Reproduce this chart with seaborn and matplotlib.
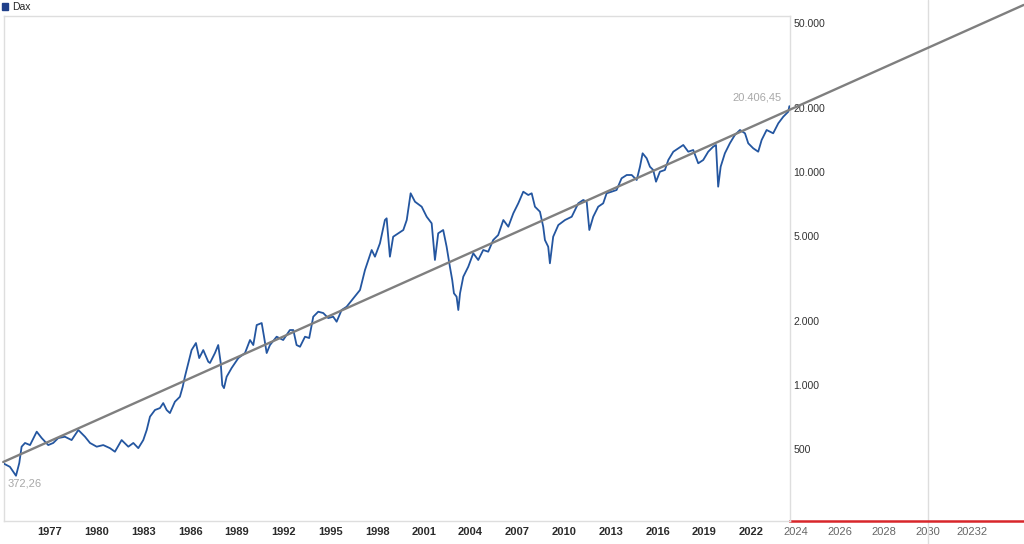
import numpy as np
import pandas as pd
import matplotlib
matplotlib.use("Agg")
import matplotlib.pyplot as plt
from matplotlib.patches import Patch
from matplotlib.ticker import NullLocator
import seaborn as sns

# ---------------- data ----------------
dax_years = [1974.00, 1974.22, 1974.43, 1974.64, 1974.82, 1975.03, 1975.18, 1975.40, 1975.72, 1976.15,
             1976.47, 1976.89, 1977.21, 1977.53, 1977.96, 1978.39, 1978.82, 1979.25, 1979.57, 1980.00,
             1980.42, 1980.85, 1981.17, 1981.60, 1982.03, 1982.35, 1982.67, 1982.99, 1983.21, 1983.42,
             1983.74, 1984.06, 1984.27, 1984.49, 1984.70, 1985.02, 1985.34, 1985.52, 1985.66, 1985.88,
             1986.09, 1986.37, 1986.58, 1986.84, 1987.16, 1987.27, 1987.59, 1987.80, 1987.96, 1988.06,
             1988.17, 1988.34, 1988.66, 1989.09, 1989.52, 1989.84, 1990.05, 1990.27, 1990.59, 1990.74,
             1990.91, 1991.12, 1991.55, 1991.97, 1992.40, 1992.62, 1992.83, 1993.05, 1993.37, 1993.64,
             1993.90, 1994.22, 1994.54, 1994.86, 1995.18, 1995.40, 1995.72, 1996.04, 1996.47, 1996.90,
             1997.22, 1997.65, 1997.86, 1998.18, 1998.50, 1998.61, 1998.82, 1999.03, 1999.36, 1999.68,
             1999.90, 2000.15, 2000.43, 2000.86, 2001.18, 2001.50, 2001.71, 2001.92, 2002.24, 2002.46,
             2002.67, 2002.82, 2002.93, 2003.10, 2003.21, 2003.32, 2003.53, 2003.85, 2004.17, 2004.49,
             2004.81, 2005.13, 2005.45, 2005.77, 2006.10, 2006.42, 2006.74, 2007.06, 2007.38, 2007.70,
             2007.92, 2008.13, 2008.45, 2008.66, 2008.77, 2008.98, 2009.09, 2009.30, 2009.63, 2010.06,
             2010.49, 2010.91, 2011.23, 2011.45, 2011.62, 2011.87, 2012.19, 2012.51, 2012.73, 2013.05,
             2013.37, 2013.69, 2014.02, 2014.34, 2014.66, 2014.87, 2015.04, 2015.30, 2015.51, 2015.72,
             2015.90, 2016.15, 2016.47, 2016.69, 2017.01, 2017.33, 2017.65, 2017.97, 2018.29, 2018.61,
             2018.93, 2019.25, 2019.57, 2019.75, 2019.89, 2020.05, 2020.32, 2020.64, 2020.96, 2021.29,
             2021.61, 2021.82, 2022.14, 2022.46, 2022.68, 2023.00, 2023.42, 2023.75, 2024.07, 2024.39,
             2024.46]
dax_values = [426, 418, 410, 389, 372.26, 427, 510, 531, 519, 600,
              560, 519, 531, 560, 568, 548, 611, 568, 531, 510,
              519, 502, 483, 548, 510, 531, 502, 548, 611, 706,
              759, 775, 818, 759, 734, 830, 876, 976, 1088, 1259,
              1453, 1568, 1332, 1453, 1281, 1263, 1407, 1534, 1263, 994,
              962, 1088, 1196, 1332, 1407, 1620, 1534, 1905, 1947, 1679,
              1407, 1534, 1679, 1620, 1805, 1805, 1534, 1506, 1679, 1655,
              2085, 2201, 2170, 2055, 2085, 1975, 2242, 2323, 2544, 2784,
              3458, 4295, 3995, 4618, 5944, 6055, 3995, 4960, 5147, 5335,
              5944, 7940, 7248, 6866, 6160, 5735, 3855, 5147, 5335, 4451,
              3584, 3103, 2687, 2590, 2242, 2687, 3216, 3584, 4145, 3855,
              4295, 4217, 4786, 5051, 5944, 5529, 6391, 7124, 8078, 7794,
              7940, 6866, 6504, 5529, 4786, 4451, 3719, 4960, 5630, 5944,
              6160, 7124, 7385, 7248, 5335, 6160, 6866, 7124, 7940, 8078,
              8229, 9340, 9680, 9680, 9170, 10590, 12246, 11600, 10590, 10220,
              9002, 10030, 10220, 11388, 12459, 12927, 13400, 12459, 12690, 10990,
              11388, 12459, 13154, 13400, 8527, 10590, 12246, 13648, 14936, 15763,
              15210, 13648, 12927, 12459, 14145, 15763, 15210, 16955, 18207, 19220,
              20406.45]

trend_years = [1974.0, 2039.5]
trend_values = [432, 61100]

main_xticks = [1977, 1980, 1983, 1986, 1989, 1992, 1995, 1998, 2001, 2004, 2007, 2010, 2013, 2016, 2019, 2022]
ext_xticks = [2024, 2026, 2028, 2030, 2032]
ext_xlabels = ["2024", "2026", "2028", "2030", "20232"]
y_ticks = [500, 1000, 2000, 5000, 10000, 20000, 50000]
y_labels = ["500", "1.000", "2.000", "5.000", "10.000", "20.000", "50.000"]
last_label = "20.406,45"
low_label = "372,26"
series_name = "Dax"

# ---------------- style ----------------
sns.set_theme(style="white")
plt.rcParams['font.family'] = ['Liberation Sans', 'DejaVu Sans']

W, H = 1024, 544
fig = plt.figure(figsize=(W / 100, H / 100), dpi=100)

def box(x0, y0, x1, y1):
    return [x0 / W, 1 - y1 / H, (x1 - x0) / W, (y1 - y0) / H]

ax = fig.add_axes(box(4, 16, 790, 521))
ax_ext = fig.add_axes(box(790, 16, 1024, 521))
ax.set_zorder(3)
ax.patch.set_alpha(0)
ax_ext.set_zorder(1)
ax_ext.patch.set_alpha(0)

df = pd.DataFrame({"Jahr": dax_years, "Wert": dax_values})
tr = pd.DataFrame({"Jahr": trend_years, "Wert": trend_values})

sns.lineplot(data=df, x="Jahr", y="Wert", ax=ax, color="#2456a0", linewidth=1.3,
             estimator=None, sort=False, zorder=3)
sns.lineplot(data=tr, x="Jahr", y="Wert", ax=ax, color="#7f7f7f", linewidth=1.7,
             estimator=None, sort=False, clip_on=False, zorder=4)

ax.set_yscale("log")
ax.set_xlim(1974.05, 2024.5)
ax.set_ylim(228, 54200)
ax.set_xlabel("")
ax.set_ylabel("")
ax.set_xticks(main_xticks)
ax.set_xticklabels([str(t) for t in main_xticks], fontsize=8, color="#2b2b2b", fontweight="bold")
ax.set_yticks(y_ticks)
ax.set_yticklabels(y_labels, fontsize=7.6, color="#333333")
ax.yaxis.set_minor_locator(NullLocator())
ax.yaxis.tick_right()
ax.tick_params(axis="y", length=0, pad=2.5)
ax.tick_params(axis="x", length=0, pad=4)
for s in ax.spines.values():
    s.set_color("#dedede")
    s.set_linewidth(1.0)

# annotations
ax.annotate(last_label, xy=(dax_years[-1], dax_values[-1]), xytext=(-5.5, 2.5),
            textcoords="offset points", ha="right", va="bottom", fontsize=8, color="#a8a8a8")
low_i = int(np.argmin(dax_values))
ax.annotate(low_label, xy=(dax_years[low_i], dax_values[low_i]), xytext=(-6, -2.2),
            textcoords="offset points", ha="left", va="top", fontsize=8, color="#a8a8a8")

# extension axes (future years)
ax_ext.set_yscale("log")
ax_ext.set_ylim(228, 54200)
ax_ext.set_xlim(2023.73, 2034.36)
ax_ext.set_yticks([])
ax_ext.yaxis.set_minor_locator(NullLocator())
ax_ext.set_xticks(ext_xticks)
ax_ext.set_xticklabels(ext_xlabels, fontsize=8, color="#666666")
ax_ext.tick_params(axis="x", length=0, pad=4.5)
for k in ("top", "right", "left"):
    ax_ext.spines[k].set_visible(False)
ax_ext.spines["bottom"].set_color("#d8262b")
ax_ext.spines["bottom"].set_linewidth(1.8)
ax_ext.axvline(2030, ymin=-0.046, ymax=1.032, color="#dddddd", linewidth=1.0, clip_on=False)

# legend
handle = Patch(facecolor="#1f3f8a", edgecolor="#1f3f8a", label=series_name)
fig.legend(handles=[handle], loc="upper left", bbox_to_anchor=(0.0, 1.0), frameon=False,
           fontsize=7.5, handlelength=0.6, handleheight=0.6, handletextpad=0.4,
           borderaxespad=0.1, borderpad=0.1)

fig.savefig("out.png", dpi=100)
